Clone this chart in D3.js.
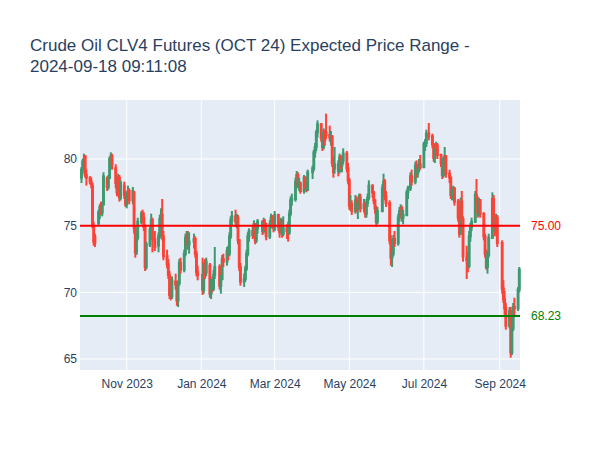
<!DOCTYPE html>
<html>
<head>
<meta charset="utf-8">
<script src="https://cdn.jsdelivr.net/npm/d3@7"></script>
<style>
  body { margin: 0; background: #fff; }
  svg { display: block; font-family: "Liberation Sans", Arial, sans-serif; }
  .tick text { fill: #2a3f5f; font-size: 12px; }
</style>
</head>
<body>
<svg id="plot"></svg>
<script>
var width = 600;
var height = 450;
var margin = {left: 80, right: 80, top: 100, bottom: 80};

// trading days Sep 25 2023 .. Sep 17 2024 (NYMEX closed on these)
var firstDay = "2023-09-25";
var lastDay = "2024-09-17";
var holidays = ["2023-11-23", "2023-12-25", "2024-01-01", "2024-01-15", "2024-02-19",
    "2024-03-29", "2024-05-27", "2024-06-19", "2024-07-04", "2024-09-02"];

// one line per month, Sep 23 .. Sep 24
var open = [
    78.6,79.2,79.9,80.2,78.8,
    78.6,78.3,78.0,75.0,74.2,75.2,76.0,76.6,76.0,76.6,78.5,77.9,78.6,80.0,80.2,79.3,78.2,77.5,78.6,77.1,78.0,77.3,
    76.6,77.2,77.6,76.9,77.5,74.8,73.0,74.1,75.3,75.9,75.6,74.9,71.9,73.6,74.8,75.4,74.0,73.5,74.2,75.5,75.8,
    74.2,72.7,72.1,71.3,69.8,69.7,70.8,70.6,69.4,70.7,72.2,71.7,72.9,74.1,74.3,73.6,73.8,74.0,72.9,71.5,
    71.3,70.2,72.0,71.5,72.0,69.9,70.7,70.3,71.3,71.9,70.5,71.0,72.5,72.3,73.1,72.9,74.2,75.4,75.7,75.3,75.6,
    73.9,71.9,70.8,71.0,71.8,72.9,74.2,74.6,74.3,75.1,73.9,74.8,75.3,74.6,75.2,75.0,74.2,75.1,75.6,75.2,
    74.8,75.8,74.9,74.5,75.3,74.4,74.8,74.6,74.5,75.9,76.9,77.0,78.3,78.8,78.1,78.2,77.6,78.6,78.0,77.7,
    79.0,79.3,80.5,80.9,82.0,82.6,81.6,80.9,82.0,82.0,81.8,81.6,81.7,79.7,79.3,79.6,79.1,80.1,79.5,79.9,80.4,79.3,
    78.4,76.5,76.6,76.1,76.9,76.3,76.6,77.1,76.3,76.6,75.9,76.7,77.1,78.0,77.5,76.9,76.3,75.3,76.1,77.8,78.3,77.2,
    76.7,73.9,72.6,72.9,74.0,73.7,75.6,76.1,76.3,75.6,75.8,77.5,77.8,78.7,78.3,79.5,78.9,79.2,79.6,
    79.4,81.1,81.2,81.9,81.7,81.1,80.1,80.5,81.0,80.3,79.7,78.8,80.0,80.2,78.9,78.6,77.3,77.6,77.8,76.8,75.6,74.4,
    76.8,75.5,72.6,72.4,72.0,74.2,74.9,75.3,77.3,77.0,76.0,76.9,75.9,74.2,72.9,71.9,72.8,74.1,77.0,75.0,74.6,75.6,
    73.7,70.3,69.5,68.8,67.5,68.6,65.5,67.3,68.9,68.8,70.2
];
var high = [
    79.4,80.0,80.4,80.3,79.2,
    78.7,78.6,78.2,75.3,74.4,76.2,76.6,76.8,76.8,79.0,78.7,78.8,80.2,80.5,80.4,79.6,78.6,78.9,78.8,78.4,78.3,77.6,
    77.5,78.0,77.8,77.9,77.6,75.0,74.4,75.6,76.1,76.2,76.0,75.1,73.8,74.9,75.9,75.6,74.6,74.5,75.8,76.3,77.0,
    74.6,73.2,72.5,71.6,70.4,71.2,71.4,70.8,70.9,72.5,72.6,73.2,74.4,74.6,74.6,74.5,74.4,74.2,73.1,72.0,
    72.6,72.3,72.5,72.6,72.2,71.0,71.2,71.7,73.4,72.1,71.3,72.8,72.9,73.4,73.5,74.5,75.7,76.1,76.2,75.9,75.8,
    74.0,72.2,71.4,72.0,73.2,74.5,74.8,75.0,75.4,75.2,75.0,75.5,75.4,75.6,75.5,75.2,75.4,75.9,75.8,75.6,
    76.1,75.9,75.3,75.6,75.5,75.7,75.1,75.3,76.2,77.2,77.4,78.6,79.1,79.0,78.6,78.3,78.8,78.7,78.3,79.2,
    79.5,80.7,81.2,82.2,82.9,82.7,81.9,82.3,82.2,83.4,82.5,82.1,81.8,80.2,80.9,79.9,80.4,80.3,80.2,80.8,80.6,79.7,
    78.6,77.3,76.9,77.3,77.2,76.9,77.4,77.4,77.0,76.8,77.0,77.4,78.4,78.1,77.6,77.0,76.5,76.4,78.1,78.9,78.5,77.6,
    76.9,74.3,73.3,74.3,74.6,75.9,76.4,76.6,76.5,76.2,77.7,78.0,79.0,79.2,79.8,79.9,79.6,80.0,80.3,
    81.3,81.5,82.2,82.7,81.9,81.2,80.8,81.3,81.2,80.4,79.8,80.2,80.9,80.3,79.2,78.7,77.9,78.0,77.9,77.0,75.7,77.1,
    77.6,75.7,73.5,73.0,74.6,75.2,75.6,77.6,78.5,77.2,77.1,77.0,76.0,74.4,73.2,73.1,74.4,77.5,77.3,75.5,75.9,75.8,
    73.9,70.9,70.1,69.2,68.9,68.9,67.6,69.2,69.6,70.4,71.9
];
var low = [
    78.2,78.9,79.5,78.6,78.0,
    78.1,77.8,74.8,73.5,73.4,75.0,75.5,75.8,75.7,76.5,77.6,77.7,78.5,79.5,79.2,77.8,77.2,77.2,76.8,76.9,77.0,76.4,
    76.3,76.8,76.6,76.6,74.4,72.6,72.8,73.9,75.1,75.2,74.6,71.6,71.7,73.4,74.5,73.0,73.1,73.0,74.0,75.1,73.9,
    72.4,71.8,71.0,69.5,69.4,69.5,70.2,69.0,68.9,70.5,71.4,71.5,72.7,73.5,73.2,72.9,73.3,72.6,71.2,70.9,
    69.8,69.9,71.0,71.2,69.6,69.5,70.0,70.1,71.0,70.2,69.9,70.9,71.9,72.0,72.4,72.7,74.0,75.0,74.9,74.8,73.6,
    71.6,70.5,70.4,70.8,71.6,72.7,73.8,74.0,74.1,73.6,73.7,74.4,74.3,74.4,74.6,73.9,74.0,74.8,74.9,74.5,
    74.6,74.6,74.1,74.4,74.1,74.2,74.0,73.8,74.3,75.7,76.5,76.8,78.0,77.8,77.6,77.4,77.4,77.7,77.5,77.6,
    78.5,79.1,80.1,80.6,81.6,81.3,80.6,80.7,81.0,81.5,81.3,81.0,79.4,78.6,78.9,78.7,78.9,79.2,79.0,79.6,79.0,78.1,
    76.2,76.1,75.8,75.9,76.0,75.5,76.2,76.0,76.0,75.6,75.6,76.4,76.9,77.1,76.6,75.9,74.9,75.1,76.0,77.5,76.9,76.4,
    73.6,72.0,71.9,72.7,73.4,73.5,75.3,75.7,75.3,75.1,75.7,77.0,77.6,78.0,78.1,78.6,78.6,79.0,79.2,
    79.3,80.6,80.9,81.4,80.8,79.8,79.7,80.3,80.0,79.4,78.5,78.6,79.6,78.6,78.2,77.0,76.9,76.9,76.5,75.3,74.1,74.3,
    75.0,72.3,71.0,71.5,71.8,73.8,74.6,75.2,76.7,75.6,75.7,75.6,73.9,72.6,71.7,71.4,72.6,74.0,74.7,74.2,74.4,73.4,
    69.9,69.2,68.3,67.2,67.3,65.1,65.3,67.1,68.3,68.6,70.0
];
var close = [
    79.2,79.8,80.0,78.8,78.6,
    78.3,78.1,75.1,73.8,73.7,76.0,76.4,76.0,76.5,78.7,77.9,78.5,80.0,80.2,79.6,78.2,77.5,78.6,77.1,78.2,77.3,76.6,
    77.2,77.6,76.9,77.6,74.8,73.0,74.1,75.3,75.9,75.6,74.9,71.9,73.6,74.7,75.4,74.0,73.4,74.2,75.5,75.8,74.2,
    72.7,72.1,71.3,69.8,69.7,70.9,70.6,69.4,70.7,72.2,71.7,72.9,74.1,74.3,73.6,73.8,74.0,72.9,71.5,71.3,
    70.2,72.0,71.5,72.3,69.9,70.7,70.3,71.3,71.9,70.5,71.0,72.5,72.3,73.1,72.9,74.2,75.4,75.7,75.3,75.6,73.9,
    71.9,70.8,71.0,71.8,72.9,74.2,74.6,74.3,75.1,73.9,74.8,75.3,74.6,75.2,75.0,74.2,75.1,75.6,75.2,74.8,
    75.8,74.9,74.5,75.3,74.4,74.8,74.6,74.5,75.9,76.9,77.0,78.3,78.8,78.1,78.2,77.6,78.6,78.0,77.7,79.0,
    79.3,80.5,80.9,82.0,82.6,81.6,80.9,82.0,81.4,81.8,81.6,81.7,79.7,79.0,79.6,79.1,80.1,79.5,79.9,80.4,79.3,78.4,
    76.5,76.6,76.1,76.9,76.3,76.6,77.1,76.3,76.6,75.9,76.7,77.1,78.0,77.5,76.9,76.3,75.3,76.1,77.8,78.3,77.2,76.7,
    73.9,72.6,72.9,74.0,73.7,75.6,76.1,76.3,75.6,75.8,77.5,77.8,78.7,78.3,79.5,78.9,79.2,79.6,79.4,
    81.1,81.2,81.9,81.7,81.1,80.1,80.5,81.0,80.3,79.7,78.8,80.0,80.2,78.9,78.6,77.3,77.6,77.8,76.8,75.6,74.4,76.8,
    75.5,72.7,72.4,72.0,74.2,74.9,75.3,77.3,77.0,76.0,76.9,75.9,74.2,72.9,71.9,72.8,74.1,77.0,75.0,74.6,75.6,73.7,
    70.3,69.5,68.8,67.5,68.6,65.5,67.3,68.9,68.8,70.2,71.7
];

var yTicks = [65, 70, 75, 80];
var xTicks = ["2023-11-01", "2024-01-01", "2024-03-01", "2024-05-01", "2024-07-01", "2024-09-01"];
var levels = [75.00, 68.23];
var levelColors = ["red", "green"];
var title = ["Crude Oil CLV4 Futures (OCT 24) Expected Price Range -", "2024-09-18 09:11:08"];

var incColor = "#3D9970";
var decColor = "#FF4136";

var parse = d3.utcParse("%Y-%m-%d");

function tradingDays(from, to) {
    var days = [];
    var d = parse(from);
    var end = parse(to);
    var fmt = d3.utcFormat("%Y-%m-%d");
    while (d <= end) {
        var wd = d.getUTCDay();
        if (wd != 0 && wd != 6 && holidays.indexOf(fmt(d)) == -1) days.push(new Date(d));
        d = d3.utcDay.offset(d, 1);
    }
    return days;
}

var dates = tradingDays(firstDay, lastDay);
var data = dates.map(function (d, i) {
    return {date: d, o: open[i], h: high[i], l: low[i], c: close[i]};
});

var svg = d3.select("#plot")
    .attr("width", width)
    .attr("height", height);

var plotW = width - margin.left - margin.right;
var plotH = height - margin.top - margin.bottom;

// range padded the way plotly does it, a bit before the first candle and after the last
var xScale = d3.scaleUtc()
    .domain([new Date(Date.UTC(2023, 8, 23, 19)), new Date(Date.UTC(2024, 8, 17, 14))])
    .range([margin.left, margin.left + plotW]);
var yScale = d3.scaleLinear()
    .domain([64.175, 84.425])
    .range([margin.top + plotH, margin.top]);

svg.append("rect")
    .attr("x", margin.left)
    .attr("y", margin.top)
    .attr("width", plotW)
    .attr("height", plotH)
    .attr("fill", "#E5ECF6");

svg.append("g")
    .attr("class", "grid")
    .selectAll("line.gx")
    .data(xTicks.map(parse))
    .enter()
    .append("line")
    .attr("x1", function (d) { return xScale(d); })
    .attr("x2", function (d) { return xScale(d); })
    .attr("y1", margin.top)
    .attr("y2", margin.top + plotH)
    .attr("stroke", "#fff")
    .attr("stroke-width", 1);

svg.append("g")
    .attr("class", "grid")
    .selectAll("line.gy")
    .data(yTicks)
    .enter()
    .append("line")
    .attr("x1", margin.left)
    .attr("x2", margin.left + plotW)
    .attr("y1", function (d) { return yScale(d); })
    .attr("y2", function (d) { return yScale(d); })
    .attr("stroke", "#fff")
    .attr("stroke-width", 1);

// candles
var halfBox = (xScale(d3.utcDay.offset(dates[0], 1)) - xScale(dates[0])) * 0.35;
var candles = svg.append("g")
    .selectAll("g")
    .data(data)
    .enter()
    .append("g")
    .attr("stroke", function (d) { return d.c > d.o ? incColor : decColor; })
    .attr("stroke-width", 2);

candles.append("line")
    .attr("x1", function (d) { return xScale(d.date); })
    .attr("x2", function (d) { return xScale(d.date); })
    .attr("y1", function (d) { return yScale(d.h); })
    .attr("y2", function (d) { return yScale(d.l); });

candles.append("rect")
    .attr("x", function (d) { return xScale(d.date) - halfBox; })
    .attr("width", halfBox * 2)
    .attr("y", function (d) { return yScale(Math.max(d.o, d.c)); })
    .attr("height", function (d) { return Math.max(0.1, Math.abs(yScale(d.o) - yScale(d.c))); })
    .attr("fill", function (d) { return d.c > d.o ? incColor : decColor; })
    .attr("fill-opacity", 0.5);

// price levels
svg.append("g")
    .selectAll("line")
    .data(levels)
    .enter()
    .append("line")
    .attr("x1", margin.left)
    .attr("x2", margin.left + plotW)
    .attr("y1", function (d) { return yScale(d); })
    .attr("y2", function (d) { return yScale(d); })
    .attr("stroke", function (d, i) { return levelColors[i]; })
    .attr("stroke-width", 2);

svg.append("g")
    .selectAll("text")
    .data(levels)
    .enter()
    .append("text")
    .attr("x", margin.left + plotW + 11)
    .attr("y", function (d) { return yScale(d) + 4; })
    .attr("fill", function (d, i) { return levelColors[i]; })
    .attr("font-size", 12)
    .text(function (d) { return d.toFixed(2); });

// axes
var xAxis = svg.append("g")
    .attr("transform", "translate(0," + (margin.top + plotH) + ")")
    .call(d3.axisBottom(xScale)
        .tickValues(xTicks.map(parse))
        .tickFormat(d3.utcFormat("%b %Y"))
        .tickSize(0)
        .tickPadding(9));
xAxis.select(".domain").remove();

var yAxis = svg.append("g")
    .attr("transform", "translate(" + margin.left + ",0)")
    .call(d3.axisLeft(yScale)
        .tickValues(yTicks)
        .tickSize(0)
        .tickPadding(3));
yAxis.select(".domain").remove();
svg.selectAll(".tick text").attr("font-family", null).attr("font-size", null);

svg.append("g")
    .selectAll("text")
    .data(title)
    .enter()
    .append("text")
    .attr("x", 30)
    .attr("y", function (d, i) { return 51 + i * 21; })
    .attr("fill", "#2a3f5f")
    .attr("font-size", 17)
    .text(function (d) { return d; });
</script>
</body>
</html>
